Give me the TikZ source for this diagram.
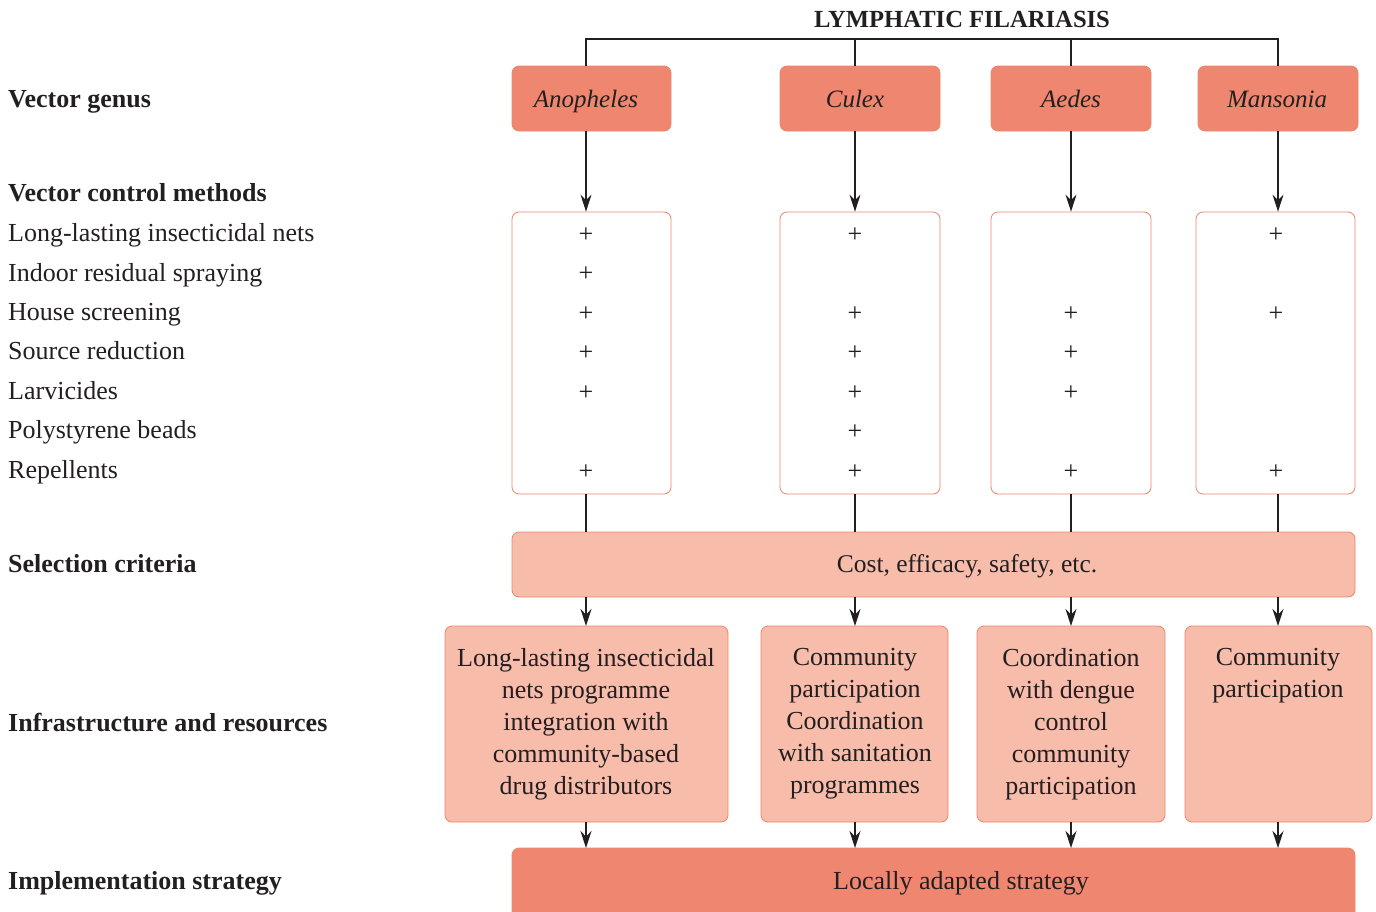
\documentclass[tikz,border=0pt]{standalone}
\usepackage{fontspec}
\setmainfont{Liberation Serif}
\usetikzlibrary{arrows.meta}
\definecolor{dark}{HTML}{EF8670}
\definecolor{light}{HTML}{F8BCAB}
\definecolor{edge}{HTML}{EE8468}
\definecolor{ink}{HTML}{231F20}
\tikzset{
  genus/.style={draw=edge, fill=dark, rounded corners=7pt, line width=0.8pt},
  gtext/.style={text=ink, font=\fontsize{25}{30}\selectfont\itshape, inner sep=0pt, anchor=base},
  methbox/.style={draw=edge, fill=white, rounded corners=7pt, line width=0.8pt},
  crit/.style={draw=edge, fill=light, rounded corners=7pt, line width=0.8pt},
  impl/.style={draw=edge, fill=dark, rounded corners=7pt, line width=0.8pt},
  btext/.style={text=ink, font=\fontsize{26}{32}\selectfont, inner sep=0pt},
  conn/.style={draw=ink, line width=1.3pt},
  arr/.style={conn, -{Stealth[length=17pt,width=11pt]}},
  lbl/.style={anchor=base west, text=ink, font=\fontsize{26}{30}\selectfont, inner sep=0pt},
  hlbl/.style={lbl, font=\fontsize{26}{30}\selectfont\bfseries},
  plus/.style={text=ink, font=\fontsize{26}{30}\selectfont, inner sep=0pt}
}
\begin{document}
\begin{tikzpicture}[x=1pt,y=-1pt]
\useasboundingbox (0,0) rectangle (1376,911);
% title
\node[text=ink, font=\fontsize{24.6}{28}\selectfont\bfseries, inner sep=0pt, anchor=base] (title) at (962,27.5) {LYMPHATIC FILARIASIS};
% genus boxes
\path[genus] (512,66) rectangle (671,131); \node[gtext] (gA) at (586,107) {Anopheles};
\path[genus] (780,66) rectangle (940,131); \node[gtext] (gC) at (855,107) {Culex};
\path[genus] (991,66) rectangle (1151,131); \node[gtext] (gAe) at (1071,107) {Aedes};
\path[genus] (1198,66) rectangle (1358,131); \node[gtext] (gM) at (1277,107) {Mansonia};
\coordinate (tA) at (586,66); \coordinate (tC) at (855,66); \coordinate (tAe) at (1071,66); \coordinate (tM) at (1278,66);
\draw[conn] (tA) -- (586,39) -- (1278,39) -- (tM);
\draw[conn] (tC) -- (855,39);
\draw[conn] (tAe) -- (1071,39);
% method boxes
\node[methbox, minimum width=159pt, minimum height=282pt, inner sep=0pt] (mA) at (591.5,353) {};
\node[methbox, minimum width=160pt, minimum height=282pt, inner sep=0pt] (mC) at (860,353) {};
\node[methbox, minimum width=160pt, minimum height=282pt, inner sep=0pt] (mAe) at (1071,353) {};
\node[methbox, minimum width=159pt, minimum height=282pt, inner sep=0pt] (mM) at (1275.5,353) {};
\draw[arr] (586,131) -- (mA.north -| 586,0);
\draw[arr] (855,131) -- (mC.north -| 855,0);
\draw[arr] (1071,131) -- (mAe.north);
\draw[arr] (1278,131) -- (mM.north -| 1278,0);
% pluses
\foreach \y in {234,273,313,352,392,471} \node[plus] at (586,\y+1.5) {+};
\foreach \y in {234,313,352,392,431,471} \node[plus] at (855,\y+1.5) {+};
\foreach \y in {313,352,392,471} \node[plus] at (1071,\y+1.5) {+};
\foreach \y in {234,313,471} \node[plus] at (1276,\y+1.5) {+};
% selection
\node[crit, minimum width=843pt, minimum height=65pt, inner sep=0pt] (sel) at (933.5,564.5) {};
\node[btext, font=\fontsize{25.5}{30}\selectfont, anchor=base] (selt) at (967,572) {Cost, efficacy, safety, etc.};
\draw[conn] (mA.south -| 586,0) -- (586,532);
\draw[conn] (mC.south -| 855,0) -- (855,532);
\draw[conn] (mAe.south) -- (1071,532);
\draw[conn] (mM.south -| 1278,0) -- (1278,532);
% infrastructure
\path[crit] (445,626) rectangle (728,822);
\path[crit] (761,626) rectangle (948,822);
\path[crit] (977,626) rectangle (1165,822);
\path[crit] (1185,626) rectangle (1372,822);
\node[btext, align=center, anchor=north] (iA) at (586,648) {Long-lasting insecticidal\\nets programme\\integration with\\community-based\\drug distributors};
\node[btext, align=center, anchor=north] (iC) at (855,648) {Community\\participation\\Coordination\\with sanitation\\programmes};
\node[btext, align=center, anchor=north] (iAe) at (1071,648) {Coordination\\with dengue\\control\\community\\participation};
\node[btext, align=center, anchor=north] (iM) at (1278,648) {Community\\participation};
\draw[arr] (586,597) -- (586,626);
\draw[arr] (855,597) -- (855,626);
\draw[arr] (1071,597) -- (1071,626);
\draw[arr] (1278,597) -- (1278,626);
% implementation
\path[impl] (512,848) rectangle (1355,925);
\node[btext, anchor=base] (imp) at (961,889) {Locally adapted strategy};
\draw[arr] (586,822) -- (586,848);
\draw[arr] (855,822) -- (855,848);
\draw[arr] (1071,822) -- (1071,848);
\draw[arr] (1278,822) -- (1278,848);
% left labels
\node[hlbl] (l1) at (8,107.5) {Vector genus};
\node[hlbl] (l2) at (8,201.5) {Vector control methods};
\node[lbl] at (8,241.5) {Long-lasting insecticidal nets};
\node[lbl] at (8,281) {Indoor residual spraying};
\node[lbl] at (8,320.5) {House screening};
\node[lbl] at (8,359.5) {Source reduction};
\node[lbl] at (8,399) {Larvicides};
\node[lbl] at (8,438.5) {Polystyrene beads};
\node[lbl] at (8,478) {Repellents};
\node[hlbl] at (8,572) {Selection criteria};
\node[hlbl] at (8,731) {Infrastructure and resources};
\node[hlbl] at (8,889.5) {Implementation strategy};
\end{tikzpicture}
\end{document}
